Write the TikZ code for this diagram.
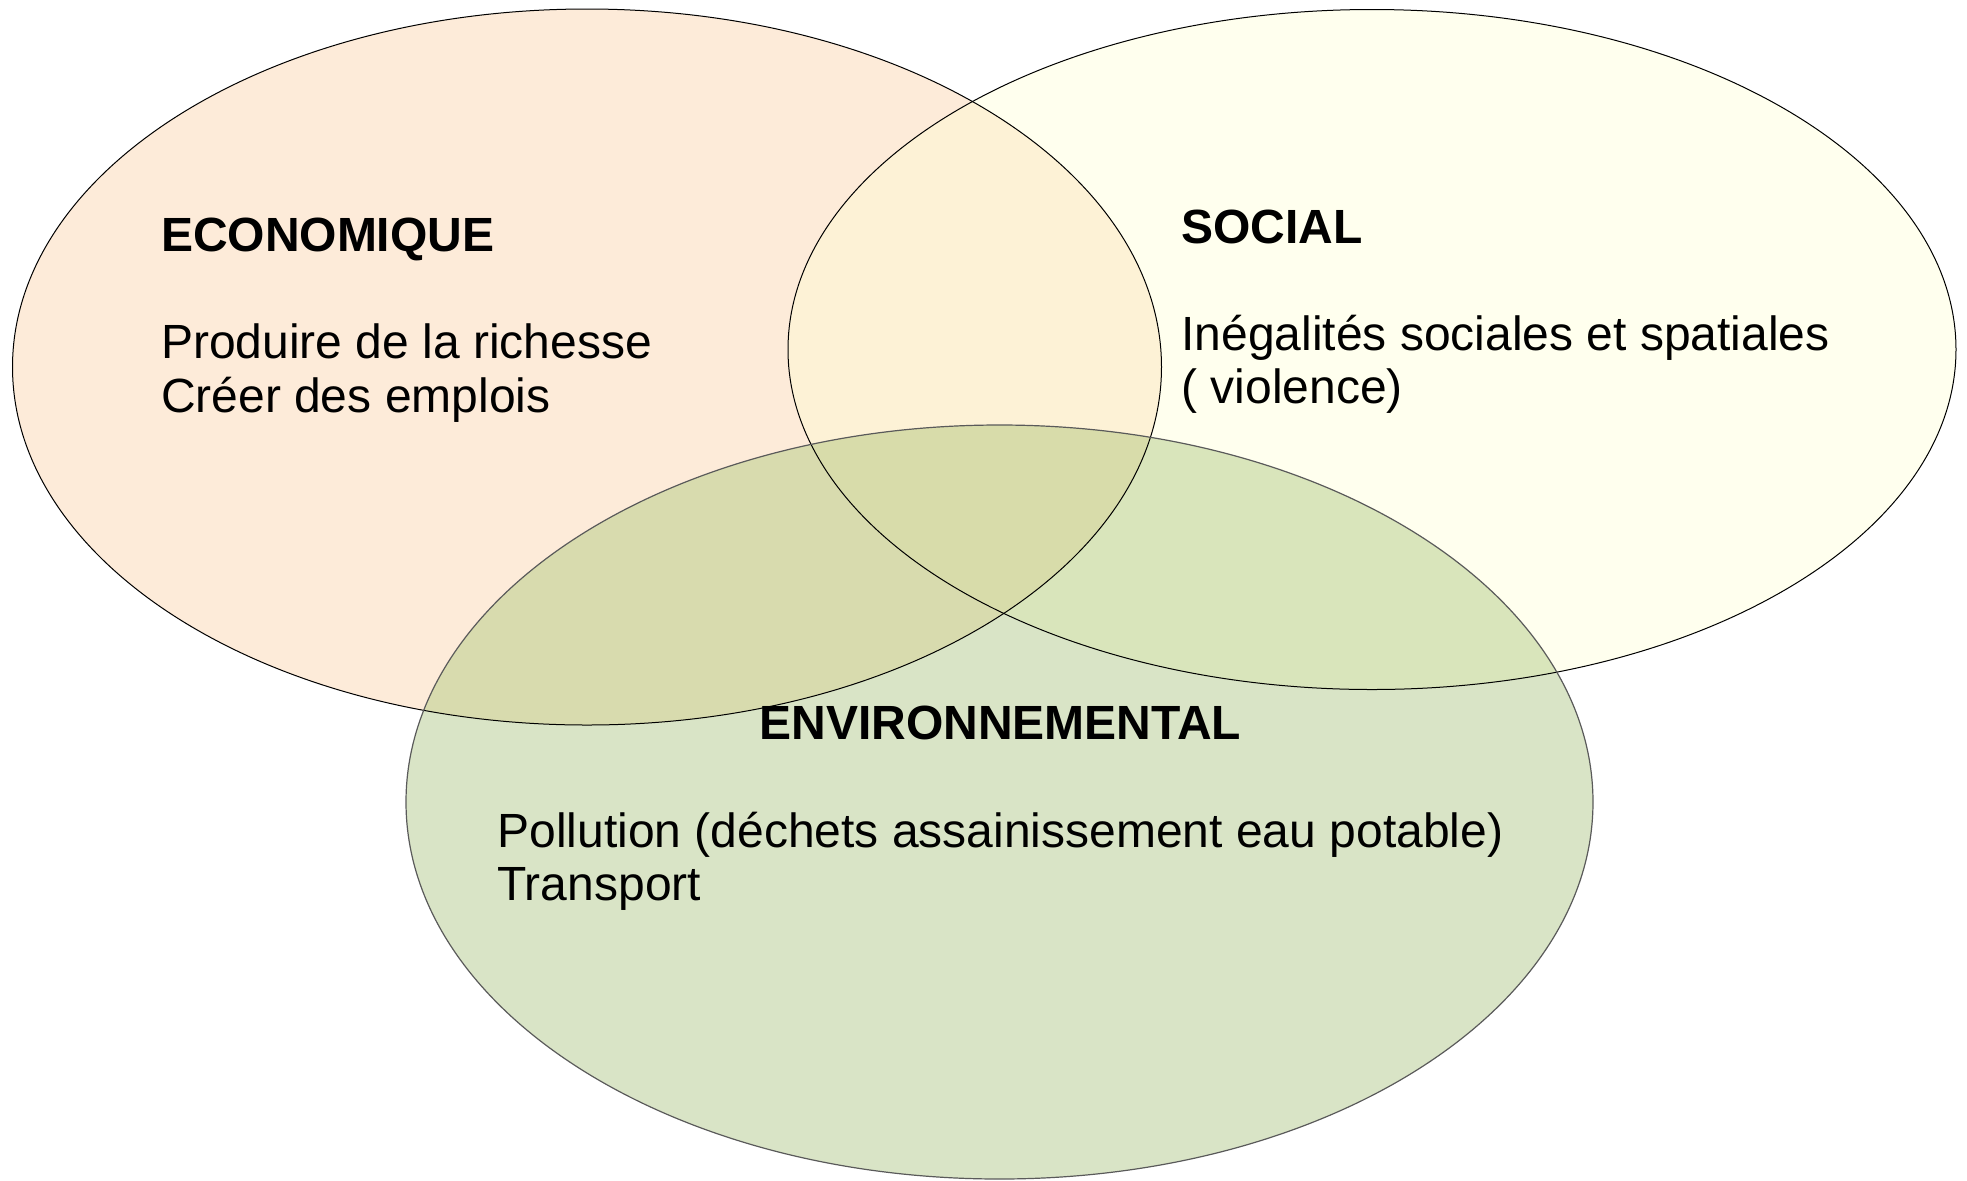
\documentclass[tikz,border=0pt]{standalone}
\usepackage{fontspec}
\setmainfont{Liberation Sans}
\definecolor{ecofill}{HTML}{FDEBD9}
\definecolor{socfill}{HTML}{FFFFEE}
\definecolor{ecosoc}{HTML}{FDF2D6}
\definecolor{envfill}{HTML}{D9E4C6}
\definecolor{ecoenv}{HTML}{D8DBAE}
\definecolor{socenv}{HTML}{D9E5BB}
\definecolor{allthree}{HTML}{D8DCAA}
\definecolor{envline}{HTML}{5A5A5A}
\newcommand{\ellEco}{(587,367) ellipse [x radius=574.5, y radius=358]}
\newcommand{\ellSoc}{(1372,349.5) ellipse [x radius=584, y radius=340]}
\newcommand{\ellEnv}{(999.5,802) ellipse [x radius=593.5, y radius=377]}
\begin{document}
\begin{tikzpicture}[x=0.5pt,y=-0.5pt,
  title/.style={font=\fontsize{24pt}{27pt}\selectfont\bfseries, anchor=base west, inner sep=0pt},
  body/.style={font=\fontsize{24pt}{27pt}\selectfont, anchor=base west, inner sep=0pt},
  outline/.style={draw=black, line width=0.5pt},
  envoutline/.style={draw=envline, line width=0.6pt}]
\useasboundingbox (0,0) rectangle (1967,1180);
% fills
\fill[ecofill] \ellEco;
\fill[socfill] \ellSoc;
\begin{scope}
  \clip \ellEco;
  \fill[ecosoc] \ellSoc;
\end{scope}
\fill[envfill] \ellEnv;
\begin{scope}
  \clip \ellEnv;
  \fill[ecoenv] \ellEco;
\end{scope}
\begin{scope}
  \clip \ellEnv;
  \fill[socenv] \ellSoc;
\end{scope}
\begin{scope}
  \clip \ellEnv;
  \clip \ellEco;
  \fill[allthree] \ellSoc;
\end{scope}
% outlines
\path[outline] \ellEco;
\path[outline] \ellSoc;
\path[envoutline] \ellEnv;
% texts
\node[title] (ecoT) at (160.6,251) {ECONOMIQUE};
\node[body] (eco1) at (160.6,358) {Produire de la richesse};
\node[body] (eco2) at (160.6,412) {Créer des emplois};
\node[title] (socT) at (1181,243) {SOCIAL};
\node[body] (soc1) at (1181,350.5) {Inégalités sociales et spatiales};
\node[body] (soc2) at (1181,403.5) {( violence)};
\node[title] (envT) at (759,739.5) {ENVIRONNEMENTAL};
\node[body] (env1) at (497,847) {Pollution (déchets assainissement eau potable)};
\node[body] (env2) at (497,900) {Transport};
\end{tikzpicture}
\end{document}
